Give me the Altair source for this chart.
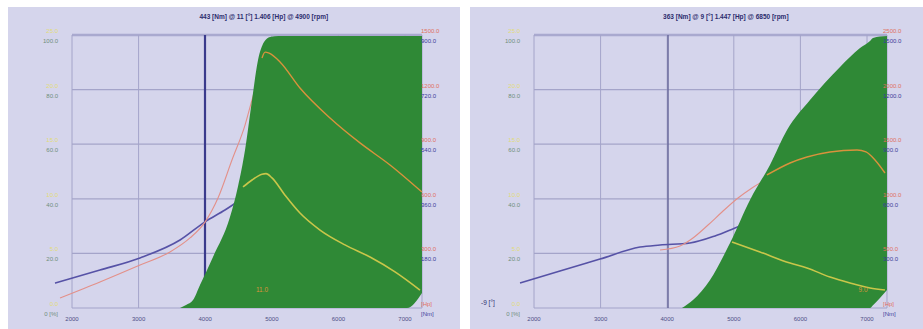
import altair as alt
import pandas as pd

# ---------------- layout of one dyno panel (pixels inside the panel) ----------------
PANEL_H = 322
GRID_TOP_PX, GRID_BOT_PX = 28, 301
RPM_PER_PX = 15.015
RPM_AT_LEFT = 1039

RPM_TICKS = [2000, 3000, 4000, 5000, 6000, 7000]
GRID_PCT = [0, 20, 40, 60, 80, 100]
LEFT_AXIS_DEG = ["0.0", "5.0", "10.0", "15.0", "20.0", "25.0"]
LEFT_AXIS_PCT = ["0 [%]", "20.0", "40.0", "60.0", "80.0", "100.0"]

# ---------------- run 1 ----------------
R1_TITLE = "443 [Nm] @ 11 [°]   1.406 [Hp] @ 4900 [rpm]"
R1_HP_MAX, R1_NM_MAX = 1500, 900
R1_HP_LABELS = ["[Hp]", "300.0", "600.0", "900.0", "1200.0", "1500.0"]
R1_NM_LABELS = ["[Nm]", "180.0", "360.0", "540.0", "720.0", "900.0"]
R1_END_RPM = 7255
R1_CURSOR_RPM = 3997

R1_TQ_RPM = [1745, 2420, 3021, 3622, 3997, 4297, 4523]
R1_TQ_NM = [82, 125, 165, 224, 284, 323, 356]
R1_PW_RPM = [1820, 2420, 3021, 3471, 3772, 3997, 4192, 4402, 4598, 4703, 4793]
R1_PW_HP = [55, 143, 236, 308, 385, 472, 604, 813, 1005, 1143, 1253]
R1_PWC_RPM = [4853, 4900, 4960, 5123, 5423, 5874, 6324, 6775, 7255]
R1_PWC_HP = [1374, 1406, 1400, 1352, 1209, 1044, 907, 786, 637]
R1_TQC_RPM = [4568, 4703, 4853, 4913, 5003, 5198, 5423, 5724, 6099, 6475, 6850, 7225]
R1_TQC_NM = [399, 422, 441, 443, 429, 372, 313, 257, 208, 168, 119, 59]
R1_LOAD_RPM = [3622, 3712, 3817, 3922, 4117, 4372, 4492, 4598, 4703, 4793, 4883, 4973, 5100, 7030, 7255]
R1_LOAD_TOP = [0, 1.1, 2.9, 8.4, 18.7, 33.3, 44.5, 57.9, 76.2, 90.8, 97.4, 99.3, 99.6, 99.6, 99.6]
R1_LOAD_LOW = [0, 0, 0, 0, 0, 0, 0, 0, 0, 0, 0, 0, 0, 0, 5.5]
R1_NOTE = ("11.0", 4853, 6.6)

# ---------------- run 2 ----------------
R2_TITLE = "363 [Nm] @ 9 [°]   1.447 [Hp] @ 6850 [rpm]"
R2_HP_MAX, R2_NM_MAX = 2500, 1500
R2_HP_LABELS = ["[Hp]", "500.0", "1000.0", "1500.0", "2000.0", "2500.0"]
R2_NM_LABELS = ["[Nm]", "300.0", "600.0", "900.0", "1200.0", "1500.0"]
R2_END_RPM = 7300
R2_CURSOR_RPM = 4012

R2_TQ_RPM = [1790, 2390, 2991, 3592, 3892, 4342, 4718, 5018, 5243]
R2_TQ_NM = [137, 203, 269, 335, 346, 357, 396, 440, 473]
R2_PW_RPM = [3892, 4192, 4387, 4613, 4823, 5063, 5273, 5468]
R2_PW_HP = [531, 568, 641, 760, 879, 1007, 1099, 1172]
R2_PWC_RPM = [5498, 5844, 6099, 6444, 6850, 6985, 7120, 7270]
R2_PWC_HP = [1218, 1328, 1383, 1429, 1447, 1429, 1355, 1236]
R2_TQC_RPM = [4973, 5393, 5844, 6099, 6444, 6745, 7045, 7270]
R2_TQC_NM = [363, 308, 247, 220, 170, 137, 110, 99]
R2_LOAD_RPM = [4222, 4387, 4643, 4943, 5243, 5543, 5799, 6144, 6595, 6895, 7045, 7090, 7300]
R2_LOAD_TOP = [0, 2.9, 10.3, 23.8, 39.6, 52.4, 65.2, 76.2, 88.3, 95.2, 97.8, 98.9, 99.6]
R2_LOAD_LOW = [0, 0, 0, 0, 0, 0, 0, 0, 0, 0, 0, 1.0, 6.6]
R2_NOTE = ("9.0", 6940, 6.6)
R2_READOUT = ("-9 [°]", 1204, 1.8)

# ---------------- styling ----------------
BG = "#d5d5ec"
GRID = "#a4a4c9"
GREEN = "#2f8936"
BLUE = "#5652a6"
RED = "#e39089"
ORANGE = "#d9923c"
YGREEN = "#c9c64a"
FONT = "Liberation Sans"


def x_enc(field, width):
    dom = [RPM_AT_LEFT, RPM_AT_LEFT + width * RPM_PER_PX]
    return alt.X(f"{field}:Q", scale=alt.Scale(domain=dom, nice=False, zero=False), axis=None)


def y_enc(field, top):
    per = top / (GRID_BOT_PX - GRID_TOP_PX)
    dom = [-(PANEL_H - GRID_BOT_PX) * per, top + GRID_TOP_PX * per]
    return alt.Y(f"{field}:Q", scale=alt.Scale(domain=dom, nice=False, zero=False), axis=None)


def line(rpm, vals, top, color, width, w):
    df = pd.DataFrame({"rpm": rpm, "v": vals})
    return alt.Chart(df).mark_line(color=color, strokeWidth=width, interpolate="monotone").encode(
        x=x_enc("rpm", w), y=y_enc("v", top))


def text_layer(df, w, color, size=6, align="center", dy=0, bold=False):
    return alt.Chart(df).mark_text(
        color=color, fontSize=size, font=FONT, align=align, dy=dy,
        fontWeight="bold" if bold else "normal").encode(
        x=x_enc("rpm", w), y=y_enc("pct", 100), text="t:N")


def panel(w, title, end_rpm, cursor_rpm, cursor_color, cursor_width,
          hp_max, nm_max, hp_labels, nm_labels,
          tq, pw, pwc, tqc, load, note, readout=None):
    hgrid = pd.DataFrame({"a": 2000, "b": end_rpm, "pct": GRID_PCT[:-1]})
    top = pd.DataFrame({"a": [2000], "b": [end_rpm], "pct": [100]})
    vgrid = pd.DataFrame({"rpm": RPM_TICKS + [end_rpm], "lo": 0, "hi": 100})
    cur = pd.DataFrame({"rpm": [cursor_rpm], "lo": [0], "hi": [100]})

    layers = [
        alt.Chart(hgrid).mark_rule(color=GRID, strokeWidth=1.2).encode(
            x=x_enc("a", w), x2="b:Q", y=y_enc("pct", 100)),
        alt.Chart(top).mark_rule(color="#a9a9cf", strokeWidth=2.6).encode(
            x=x_enc("a", w), x2="b:Q", y=y_enc("pct", 100)),
        alt.Chart(vgrid).mark_rule(color=GRID, strokeWidth=1).encode(
            x=x_enc("rpm", w), y=y_enc("lo", 100), y2="hi:Q"),
        alt.Chart(cur).mark_rule(color=cursor_color, strokeWidth=cursor_width).encode(
            x=x_enc("rpm", w), y=y_enc("lo", 100), y2="hi:Q"),
        line(tq[0], tq[1], nm_max, BLUE, 1.6, w),
        line(pw[0], pw[1], hp_max, RED, 1.1, w),
    ]

    ld = pd.DataFrame({"rpm": load[0], "top": load[1], "low": load[2]})
    layers.append(alt.Chart(ld).mark_area(color=GREEN, opacity=1, interpolate="monotone").encode(
        x=x_enc("rpm", w), y=y_enc("top", 100), y2="low:Q"))

    layers.append(line(pwc[0], pwc[1], hp_max, ORANGE, 1.4, w))
    layers.append(line(tqc[0], tqc[1], nm_max, YGREEN, 1.6, w))

    # title
    layers.append(text_layer(pd.DataFrame({"rpm": [4880], "pct": [106.5], "t": [title]}),
                             w, "#2c2c6c", size=6.5, bold=True))
    # rpm tick labels
    layers.append(text_layer(pd.DataFrame({"rpm": RPM_TICKS, "pct": 0, "t": [str(v) for v in RPM_TICKS]}),
                             w, "#4e4e86", size=6, dy=11))
    # left scale labels
    lx = RPM_AT_LEFT + 50 * RPM_PER_PX
    layers.append(text_layer(pd.DataFrame({"rpm": lx, "pct": GRID_PCT, "t": LEFT_AXIS_DEG}),
                             w, "#e2dc78", size=6, align="right", dy=-4))
    layers.append(text_layer(pd.DataFrame({"rpm": lx, "pct": GRID_PCT, "t": LEFT_AXIS_PCT}),
                             w, "#6f8e7c", size=6, align="right", dy=6))
    # right scale labels
    rx = RPM_AT_LEFT + 413 * RPM_PER_PX
    layers.append(text_layer(pd.DataFrame({"rpm": rx, "pct": GRID_PCT, "t": hp_labels}),
                             w, "#e0705e", size=6, align="left", dy=-4))
    layers.append(text_layer(pd.DataFrame({"rpm": rx, "pct": GRID_PCT, "t": nm_labels}),
                             w, "#3c3c9a", size=6, align="left", dy=6))
    # value note inside the load area
    layers.append(text_layer(pd.DataFrame({"rpm": [note[1]], "pct": [note[2]], "t": [note[0]]}),
                             w, ORANGE, size=6.5))
    if readout:
        layers.append(text_layer(pd.DataFrame({"rpm": [readout[1]], "pct": [readout[2]], "t": [readout[0]]}),
                                 w, "#2c2c6c", size=6.5, align="left"))

    return alt.layer(*layers).resolve_scale(y="independent").properties(width=w, height=PANEL_H)


left = panel(452, R1_TITLE, R1_END_RPM, R1_CURSOR_RPM, "#3a3a8c", 2.2,
             R1_HP_MAX, R1_NM_MAX, R1_HP_LABELS, R1_NM_LABELS,
             (R1_TQ_RPM, R1_TQ_NM), (R1_PW_RPM, R1_PW_HP),
             (R1_PWC_RPM, R1_PWC_HP), (R1_TQC_RPM, R1_TQC_NM),
             (R1_LOAD_RPM, R1_LOAD_TOP, R1_LOAD_LOW), R1_NOTE)

right = panel(453, R2_TITLE, R2_END_RPM, R2_CURSOR_RPM, "#6a6a9c", 1.5,
              R2_HP_MAX, R2_NM_MAX, R2_HP_LABELS, R2_NM_LABELS,
              (R2_TQ_RPM, R2_TQ_NM), (R2_PW_RPM, R2_PW_HP),
              (R2_PWC_RPM, R2_PWC_HP), (R2_TQC_RPM, R2_TQC_NM),
              (R2_LOAD_RPM, R2_LOAD_TOP, R2_LOAD_LOW), R2_NOTE, R2_READOUT)

chart = alt.hconcat(left, right, spacing=10).configure(
    padding={"left": 8, "top": 7, "right": 0, "bottom": 0},
    background="white",
).configure_view(fill=BG, stroke=None)

chart.save("out.html", embed_options={"renderer": "svg", "actions": False})
